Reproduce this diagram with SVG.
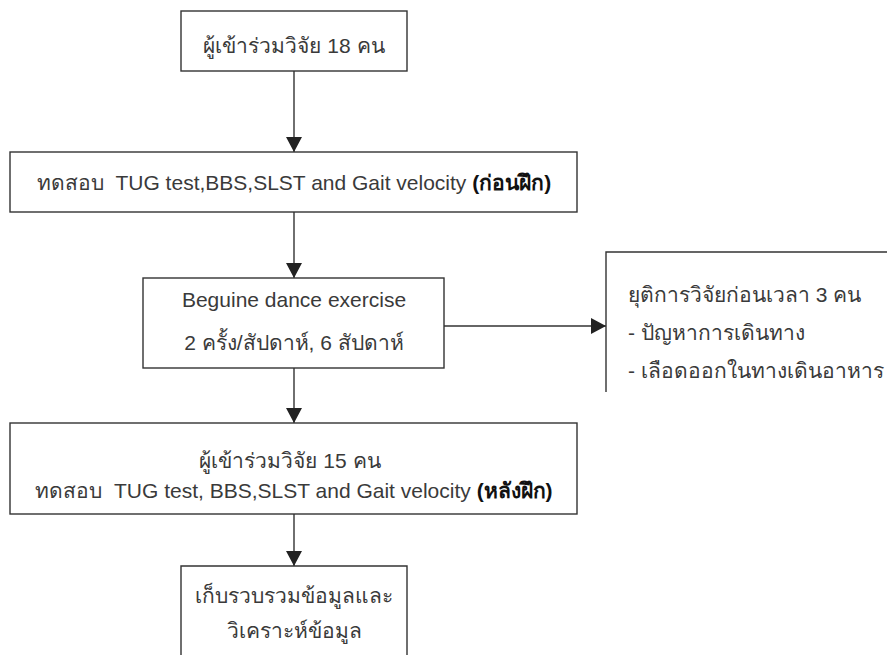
<svg xmlns="http://www.w3.org/2000/svg" width="887" height="655" viewBox="0 0 887 655">
<defs>
<style>
.box{fill:#fff;stroke:#333;stroke-width:1.4}
.ln{fill:none;stroke:#333;stroke-width:1.4}
.t{font-family:"Liberation Sans","Noto Sans","DejaVu Sans",sans-serif;font-size:21px;fill:#3a3a3a;white-space:pre}
.c{text-anchor:middle}
.b{font-weight:bold;fill:#111}
</style>
<marker id="ah" viewBox="0 0 15 16" refX="15" refY="8" markerWidth="15" markerHeight="16" markerUnits="userSpaceOnUse" orient="auto">
<path d="M0,0 L15,8 L0,16 Z" fill="#222"/>
</marker>
</defs>
<rect width="887" height="655" fill="#fff"/>
<g id="connectors">
<line class="ln" x1="294" y1="71" x2="294" y2="152" marker-end="url(#ah)"/>
<line class="ln" x1="294" y1="212" x2="294" y2="278" marker-end="url(#ah)"/>
<line class="ln" x1="444" y1="326" x2="606" y2="326" marker-end="url(#ah)"/>
<line class="ln" x1="294" y1="368" x2="294" y2="423" marker-end="url(#ah)"/>
<line class="ln" x1="294" y1="514" x2="294" y2="566" marker-end="url(#ah)"/>
</g>
<g id="n1">
<rect class="box" x="181" y="11" width="226" height="60"/>
<text class="t c" x="294" y="53">ผู้เข้าร่วมวิจัย 18 คน</text>
</g>
<g id="n2">
<rect class="box" x="10" y="152" width="567" height="60"/>
<text class="t c" x="294" y="190" xml:space="preserve">ทดสอบ  TUG test,BBS,SLST and Gait velocity <tspan class="b">(ก่อนฝึก)</tspan></text>
</g>
<g id="n3">
<rect class="box" x="143" y="278" width="301" height="90"/>
<text class="t c" x="294" y="307">Beguine dance exercise</text>
<text class="t c" x="294" y="350">2 ครั้ง/สัปดาห์, 6 สัปดาห์</text>
</g>
<g id="n4">
<path class="ln" d="M890,252 H606 V392"/>
<text class="t" x="628" y="302">ยุติการวิจัยก่อนเวลา 3 คน</text>
<text class="t" x="628" y="340">- ปัญหาการเดินทาง</text>
<text class="t" x="628" y="378">- เลือดออกในทางเดินอาหาร</text>
</g>
<g id="n5">
<rect class="box" x="10" y="423" width="567" height="91"/>
<text class="t c" x="290" y="468">ผู้เข้าร่วมวิจัย 15 คน</text>
<text class="t c" x="294" y="498" xml:space="preserve">ทดสอบ  TUG test, BBS,SLST and Gait velocity <tspan class="b">(หลังฝึก)</tspan></text>
</g>
<g id="n6">
<path class="ln" d="M181,660 V566 H407 V660" fill="#fff"/>
<text class="t c" x="294" y="603">เก็บรวบรวมข้อมูลและ</text>
<text class="t c" x="294" y="638">วิเคราะห์ข้อมูล</text>
</g>
</svg>
